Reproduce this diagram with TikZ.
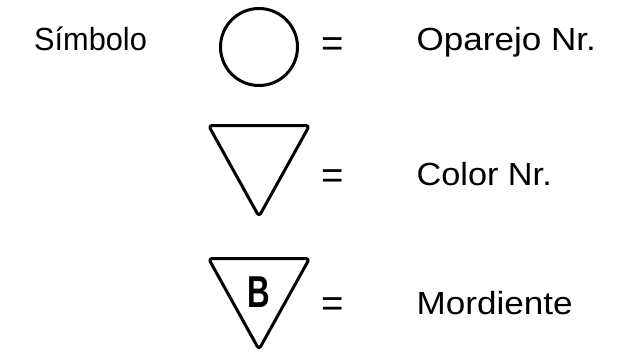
\documentclass[tikz,border=0pt]{standalone}
\usepackage{fontspec}
\setmainfont{Liberation Sans}
\begin{document}
\begin{tikzpicture}[x=1pt,y=-1pt,
  lbl/.style={anchor=base west,inner sep=0pt,font=\fontsize{32}{38}\selectfont},
  eq/.style={anchor=base,inner sep=0pt,font=\fontsize{30.7}{36}\selectfont},
  sym/.style={line width=3pt,draw=black,line join=round},
  tri/.style={sym,rounded corners=3.5pt}]
\useasboundingbox (0,0) rectangle (620,353);
% texts
\node[lbl] (simbolo) at (34,51) {\scalebox{0.96}[1]{Símbolo}};
\node[lbl] (opa) at (416.5,51) {\scalebox{1.095}[1]{Oparejo Nr.}};
\node[lbl] (col) at (416.5,185) {\scalebox{1.07}[1]{Color Nr.}};
\node[lbl] (mor) at (416.5,314) {\scalebox{1.096}[1]{Mordiente}};
% equals
\node[eq] (eq1) at (333,56.5) {\scalebox{1.25}{=}};
\node[eq] (eq2) at (333,188.5) {\scalebox{1.25}{=}};
\node[eq] (eq3) at (333,316.5) {\scalebox{1.25}{=}};
% symbols
\node[sym,circle,minimum size=77pt,inner sep=0pt] (circ) at (259,47) {};
\draw[tri] (208.5,125.5) -- (309.5,125.5) -- (259,216.5) -- cycle;
\draw[tri] (208.5,258.5) -- (309.5,258.5) -- (259,349.5) -- cycle;
\node[anchor=base,inner sep=0pt,font=\bfseries\fontsize{44.7}{50}\selectfont] (b) at (259,307) {\scalebox{0.7}[1]{B}};
\end{tikzpicture}
\end{document}
